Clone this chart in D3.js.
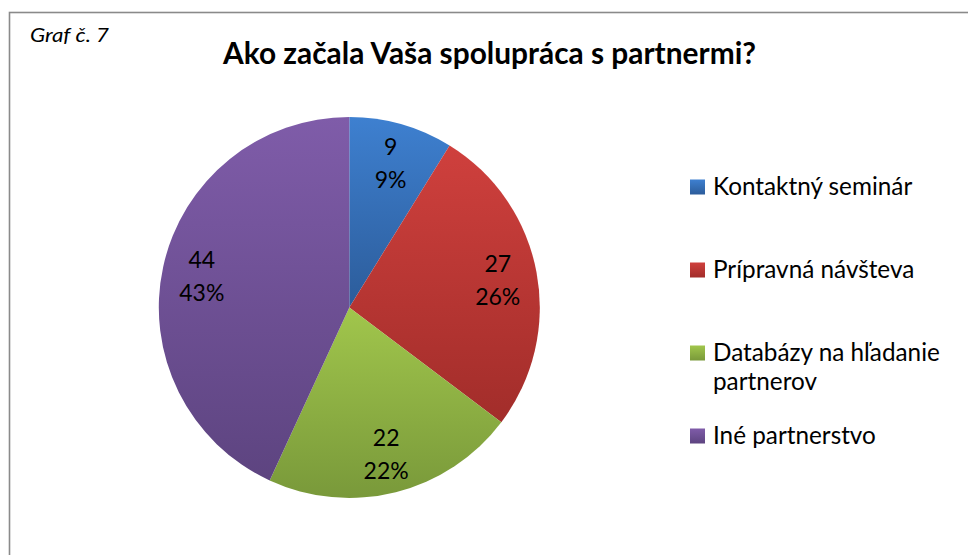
<!DOCTYPE html>
<html>
<head>
<meta charset="utf-8">
<script src="https://cdn.jsdelivr.net/npm/d3@7"></script>
<style>
  body { margin: 0; background: #fff; }
  svg { display: block; font-family: Lato, "Open Sans", sans-serif; }
</style>
</head>
<body>
<svg id="fig" width="968" height="555"></svg>
<script>
// data
const categories = ["Kontaktný seminár", "Prípravná návšteva", "Databázy na hľadanie partnerov", "Iné partnerstvo"];
const counts = [9, 27, 22, 44];
const chartTitle = "Ako začala Vaša spolupráca s partnermi?";
const chartTag = "Graf č. 7";

// colours (top, bottom of each slice gradient)
const topColors = ["#3e80d0", "#cf403d", "#a1c64c", "#7f5ca9"];
const bottomColors = ["#2c5c9a", "#a22d2a", "#79993a", "#5d4480"];

const svg = d3.select("#fig");
const W = 968, H = 555;

// frame
svg.append("rect")
  .attr("x", 9.5).attr("y", 12.5)
  .attr("width", W + 20).attr("height", H + 20)
  .attr("fill", "#fff")
  .attr("stroke", "#8a8a8a")
  .attr("stroke-width", 1.6);

// squeeze text to a width, like the narrower office font
function fit(sel, w) {
  sel.attr("textLength", w).attr("lengthAdjust", "spacingAndGlyphs");
  return sel;
}

svg.append("text")
  .attr("x", 30).attr("y", 41.5)
  .attr("font-size", 19)
  .attr("font-style", "italic")
  .attr("fill", "#000")
  .text(chartTag)
  .call(fit, 79);

svg.append("text")
  .attr("x", 223).attr("y", 64)
  .attr("font-size", 30)
  .attr("font-weight", "bold")
  .attr("fill", "#000")
  .text(chartTitle)
  .call(fit, 533);

// gradients
const defs = svg.append("defs");
categories.forEach((c, i) => {
  const g = defs.append("linearGradient")
    .attr("id", "grad" + i)
    .attr("x1", 0).attr("y1", 0).attr("x2", 0).attr("y2", 1);
  g.append("stop").attr("offset", "0%").attr("stop-color", topColors[i]);
  g.append("stop").attr("offset", "100%").attr("stop-color", bottomColors[i]);
});

const total = d3.sum(counts);
const cx = 349.3, cy = 307.4, radius = 190.5;

const pie = d3.pie().sort(null).value(d => d)(counts);
const arc = d3.arc().innerRadius(0).outerRadius(radius);
const labelArc = d3.arc().innerRadius(151).outerRadius(151);

const pieG = svg.append("g").attr("transform", `translate(${cx},${cy})`);

pieG.selectAll("path")
  .data(pie)
  .enter()
  .append("path")
  .attr("d", arc)
  .attr("fill", (d, i) => `url(#grad${i})`);

const labels = pieG.selectAll("g.lbl")
  .data(pie)
  .enter()
  .append("g")
  .attr("class", "lbl")
  .attr("transform", d => `translate(${labelArc.centroid(d)})`);

labels.append("text")
  .attr("text-anchor", "middle")
  .attr("dominant-baseline", "central")
  .attr("y", -16.5)
  .attr("font-size", 23)
  .attr("fill", "#000")
  .text(d => d.data);

labels.append("text")
  .attr("text-anchor", "middle")
  .attr("dominant-baseline", "central")
  .attr("y", 16.5)
  .attr("font-size", 23)
  .attr("fill", "#000")
  .text(d => Math.round(d.data / total * 100) + "%");

// legend
const legendY = d3.scaleLinear().domain([0, categories.length - 1]).range([187, 436]);
const legend = svg.append("g").attr("class", "legend");

const items = legend.selectAll("g")
  .data(categories)
  .enter()
  .append("g")
  .attr("transform", (d, i) => `translate(690,${legendY(i)})`);

items.append("rect")
  .attr("x", 0).attr("y", -7.5)
  .attr("width", 15).attr("height", 15)
  .attr("fill", (d, i) => `url(#grad${i})`);

items.each(function(d) {
  const t = d3.select(this).append("text")
    .attr("x", 23)
    .attr("font-size", 24.3)
    .attr("fill", "#000");
  // simple word wrap
  const words = d.split(" ");
  let line = [], lineNo = 0;
  let tspan = t.append("tspan").attr("x", 23).attr("y", 8);
  words.forEach(w => {
    line.push(w);
    tspan.text(line.join(" "));
    if (tspan.node().getComputedTextLength() > 255 && line.length > 1) {
      line.pop();
      tspan.text(line.join(" "));
      line = [w];
      lineNo++;
      tspan = t.append("tspan").attr("x", 23).attr("y", 8 + lineNo * 29).text(w);
    }
  });
});
</script>
</body>
</html>
